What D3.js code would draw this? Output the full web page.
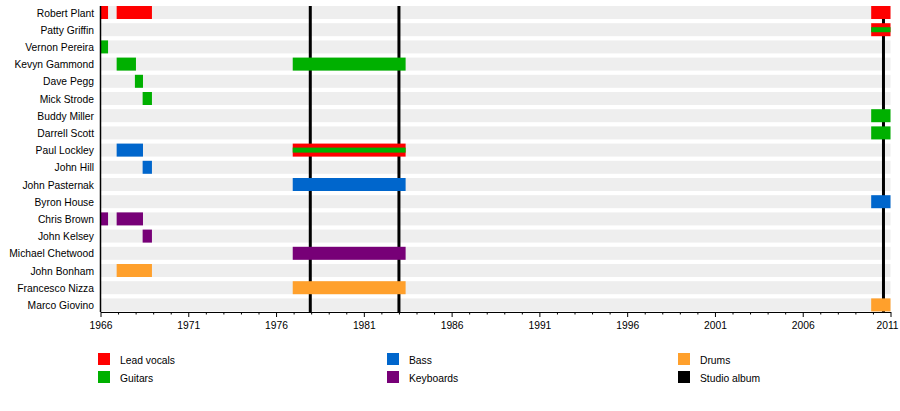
<!DOCTYPE html>
<html>
<head>
<meta charset="utf-8">
<script src="https://cdn.jsdelivr.net/npm/d3@7"></script>
<style>
  html, body { margin: 0; padding: 0; background: #fff; }
  svg { display: block; font-family: "Liberation Sans", Arial, sans-serif; }
</style>
</head>
<body>
<svg id="chart" width="900" height="411"></svg>
<script>
// ---- data ----
const members = [
  "Robert Plant", "Patty Griffin", "Vernon Pereira", "Kevyn Gammond", "Dave Pegg",
  "Mick Strode", "Buddy Miller", "Darrell Scott", "Paul Lockley", "John Hill",
  "John Pasternak", "Byron House", "Chris Brown", "John Kelsey", "Michael Chetwood",
  "John Bonham", "Francesco Nizza", "Marco Giovino"
];
const roles = ["Lead vocals", "Guitars", "Bass", "Keyboards", "Drums"];
const roleColors = ["#ff0000", "#00b000", "#0066cc", "#770077", "#ffa02c"];

// [member, role, start, end]
const periods = [
  ["Robert Plant", "Lead vocals", 1966.0, 1966.43],
  ["Robert Plant", "Lead vocals", 1966.92, 1968.93],
  ["Robert Plant", "Lead vocals", 2009.9, 2011.0],
  ["Patty Griffin", "Lead vocals", 2009.9, 2011.0],
  ["Vernon Pereira", "Guitars", 1966.0, 1966.43],
  ["Kevyn Gammond", "Guitars", 1966.92, 1968.02],
  ["Kevyn Gammond", "Guitars", 1976.95, 1983.38],
  ["Dave Pegg", "Guitars", 1967.96, 1968.42],
  ["Mick Strode", "Guitars", 1968.4, 1968.93],
  ["Buddy Miller", "Guitars", 2009.9, 2011.0],
  ["Darrell Scott", "Guitars", 2009.9, 2011.0],
  ["Paul Lockley", "Bass", 1966.92, 1968.42],
  ["Paul Lockley", "Lead vocals", 1976.95, 1983.38],
  ["John Hill", "Bass", 1968.4, 1968.93],
  ["John Pasternak", "Bass", 1976.95, 1983.38],
  ["Byron House", "Bass", 2009.9, 2011.0],
  ["Chris Brown", "Keyboards", 1966.0, 1966.43],
  ["Chris Brown", "Keyboards", 1966.92, 1968.42],
  ["John Kelsey", "Keyboards", 1968.4, 1968.93],
  ["Michael Chetwood", "Keyboards", 1976.95, 1983.38],
  ["John Bonham", "Drums", 1966.92, 1968.93],
  ["Francesco Nizza", "Drums", 1976.95, 1983.38],
  ["Marco Giovino", "Drums", 2009.9, 2011.0]
];
// secondary roles drawn as a thin inner band
const secondary = [
  ["Patty Griffin", "Guitars", 2009.9, 2011.0],
  ["Paul Lockley", "Guitars", 1976.95, 1983.38]
];
const albumYears = [1977.95, 1983.0, 2010.6];
const yearStart = 1966, yearEnd = 2011;
const majorTickYears = d3.range(1966, 2012, 5);
const legendItems = ["Lead vocals", "Guitars", "Bass", "Keyboards", "Drums", "Studio album"];
const legendColors = ["#ff0000", "#00b000", "#0066cc", "#770077", "#ffa02c", "#000000"];

// ---- layout ----
const svg = d3.select("#chart");
const x = d3.scaleLinear().domain([yearStart, yearEnd]).range([100.5, 890.5]);
const y = d3.scalePoint().domain(members).range([12.5, 12.5 + 17 * 17.2]);
const color = d3.scaleOrdinal().domain(roles).range(roleColors);
const barH = 13;
const axisY = 312;
const fontSize = "10.3px";

// background stripes
svg.append("g").selectAll("rect").data(members).join("rect")
  .attr("x", x(yearStart)).attr("width", x(yearEnd) - x(yearStart))
  .attr("y", d => y(d) - barH / 2).attr("height", barH)
  .attr("fill", "#eeeeee");

// album lines
svg.append("g").selectAll("line").data(albumYears).join("line")
  .attr("x1", d => x(d)).attr("x2", d => x(d))
  .attr("y1", 6).attr("y2", axisY)
  .attr("stroke", "#000").attr("stroke-width", 3);

// bars
svg.append("g").selectAll("rect").data(periods).join("rect")
  .attr("x", d => x(d[2])).attr("width", d => x(d[3]) - x(d[2]))
  .attr("y", d => y(d[0]) - barH / 2).attr("height", barH)
  .attr("fill", d => color(d[1]));

svg.append("g").selectAll("rect").data(secondary).join("rect")
  .attr("x", d => x(d[2])).attr("width", d => x(d[3]) - x(d[2]))
  .attr("y", d => y(d[0]) - 2.5).attr("height", 5)
  .attr("fill", d => color(d[1]));

// member labels
svg.append("g").selectAll("text").data(members).join("text")
  .attr("x", 94).attr("y", d => y(d) + 4)
  .attr("text-anchor", "end").attr("font-size", fontSize).attr("fill", "#000")
  .text(d => d);

// left axis line
svg.append("line")
  .attr("x1", x(yearStart)).attr("x2", x(yearStart))
  .attr("y1", 6).attr("y2", axisY)
  .attr("stroke", "#000").attr("stroke-width", 1.5);

// bottom axis
const axis = d3.axisBottom(x)
  .tickValues(majorTickYears)
  .tickFormat(d3.format("d"))
  .tickSize(5).tickSizeOuter(0);
const axG = svg.append("g").attr("transform", `translate(0,${axisY})`).call(axis);
axG.select(".domain").attr("stroke", "#000").attr("stroke-width", 1.2);
axG.selectAll(".tick line").attr("stroke", "#000");
axG.selectAll(".tick text").attr("font-size", fontSize)
  .attr("font-family", "Liberation Sans, Arial, sans-serif").attr("fill", "#000").attr("dy", "0.9em")
  .attr("dx", d => d === yearEnd ? -3.5 : 0);

const minor = d3.axisBottom(x)
  .tickValues(d3.range(yearStart, yearEnd + 1).filter(v => (v - yearStart) % 5 !== 0))
  .tickFormat("").tickSize(2.5).tickSizeOuter(0);
const minG = svg.append("g").attr("transform", `translate(0,${axisY})`).call(minor);
minG.select(".domain").remove();
minG.selectAll(".tick line").attr("stroke", "#000");

// legend
const legCols = [98, 387, 678];
const legRows = [353, 371];
const leg = svg.append("g").selectAll("g").data(legendItems).join("g")
  .attr("transform", (d, i) => `translate(${legCols[Math.floor(i / 2)]},${legRows[i % 2]})`);
leg.append("rect").attr("width", 12).attr("height", 12)
  .attr("fill", (d, i) => legendColors[i]);
leg.append("text").attr("x", 22).attr("y", 11)
  .attr("font-size", fontSize).attr("fill", "#000")
  .text(d => d);
</script>
</body>
</html>
